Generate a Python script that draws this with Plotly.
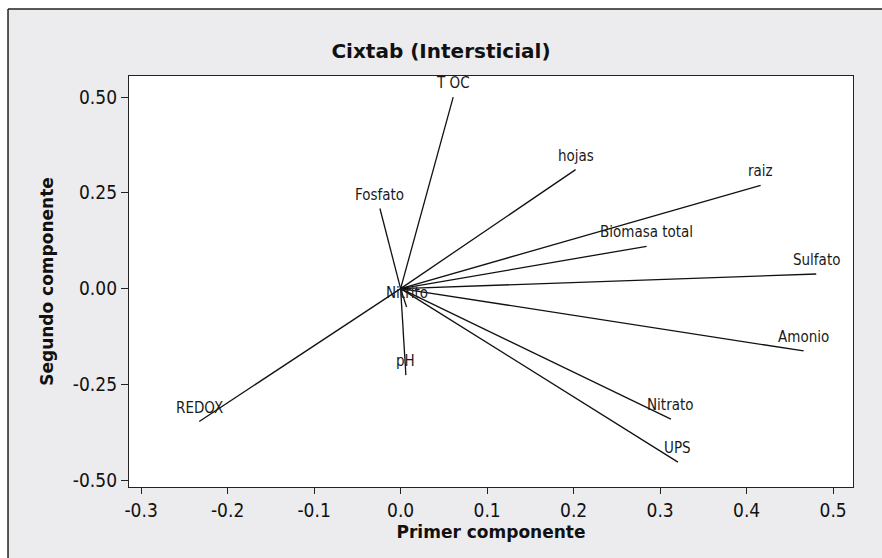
import plotly.graph_objects as go

# Loadings on the first two principal components
variables = ["T OC", "Fosfato", "hojas", "raiz", "Biomasa total", "Sulfato",
             "Amonio", "Nitrato", "UPS", "REDOX", "pH", "Nitrito"]
pc1 = [0.0608, -0.0239, 0.2023, 0.4162, 0.2844, 0.4805,
       0.4659, 0.3125, 0.3206, -0.2328, 0.0061, 0.0069]
pc2 = [0.500, 0.209, 0.3105, 0.2695, 0.1104, 0.0381,
       -0.1628, -0.341, -0.453, -0.347, -0.226, -0.048]

x_ticks = [-0.3, -0.2, -0.1, 0.0, 0.1, 0.2, 0.3, 0.4, 0.5]
x_tick_text = ["-0.3", "-0.2", "-0.1", "0.0", "0.1", "0.2", "0.3", "0.4", "0.5"]
y_ticks = [-0.50, -0.25, 0.00, 0.25, 0.50]
y_tick_text = ["-0.50", "-0.25", "0.00", "0.25", "0.50"]

# Segments from the origin to each loading vector
seg_x, seg_y = [], []
for a, b in zip(pc1, pc2):
    seg_x += [0, a, None]
    seg_y += [0, b, None]

fig = go.Figure()
fig.add_trace(go.Scatter(
    x=seg_x, y=seg_y, mode="lines",
    line=dict(color="#111111", width=1.3),
    hoverinfo="skip", showlegend=False,
))

label_font = dict(family="DejaVu Sans Condensed, DejaVu Sans, sans-serif",
                  size=15, color="#1a1a1a")
for name, a, b in zip(variables, pc1, pc2):
    fig.add_annotation(x=a, y=b, text=name, showarrow=False,
                       xanchor="center", yanchor="middle", yshift=14,
                       font=label_font)

tick_font = dict(family="DejaVu Sans Condensed, DejaVu Sans, sans-serif",
                 size=19, color="#111111")
title_font = dict(family="DejaVu Sans, sans-serif", size=17, color="#111111")

# frame edges in paper units (left edge and top edge of the grey panel)
frame_left = -0.1671
frame_top = 1.163

fig.update_layout(
    width=882, height=558,
    margin=dict(l=129, r=29, t=76, b=71),
    paper_bgcolor="white",
    plot_bgcolor="white",
    title=dict(text="<b>Cixtab (Intersticial)</b>",
               x=0.5, xref="container", xanchor="center",
               y=1 - 51 / 558, yref="container", yanchor="middle",
               font=dict(family="DejaVu Sans, sans-serif", size=20, color="#111111")),
    shapes=[
        # grey panel behind the chart
        dict(type="rect", xref="paper", yref="paper",
             x0=frame_left, x1=1.3, y0=-0.4, y1=frame_top,
             fillcolor="#ECECEE", line=dict(width=0), layer="below"),
        # white data area
        dict(type="rect", xref="paper", yref="paper",
             x0=0, x1=1, y0=0, y1=1,
             fillcolor="white", line=dict(width=0), layer="below"),
        # panel border: left and top edges
        dict(type="line", xref="paper", yref="paper",
             x0=frame_left, x1=frame_left, y0=-0.4, y1=frame_top,
             line=dict(color="#222222", width=1.5), layer="below"),
        dict(type="line", xref="paper", yref="paper",
             x0=frame_left, x1=1.3, y0=frame_top, y1=frame_top,
             line=dict(color="#222222", width=1.5), layer="below"),
    ],
)

fig.update_xaxes(
    range=[-0.314, 0.523],
    tickmode="array", tickvals=x_ticks, ticktext=x_tick_text,
    ticks="outside", ticklen=6, tickwidth=1, tickcolor="#222222",
    showline=True, linecolor="#222222", linewidth=1.3, mirror=True,
    showgrid=False, zeroline=False,
    tickfont=tick_font,
    title=dict(text="<b>Primer componente</b>", font=title_font, standoff=6),
)
fig.update_yaxes(
    range=[-0.518, 0.555],
    tickmode="array", tickvals=y_ticks, ticktext=y_tick_text,
    ticks="outside", ticklen=7, tickwidth=1, tickcolor="#222222",
    showline=True, linecolor="#222222", linewidth=1.3, mirror=True,
    showgrid=False, zeroline=False,
    tickfont=tick_font,
    title=dict(text="<b>Segundo componente</b>", font=title_font, standoff=14),
)

fig.write_html("out.html")
